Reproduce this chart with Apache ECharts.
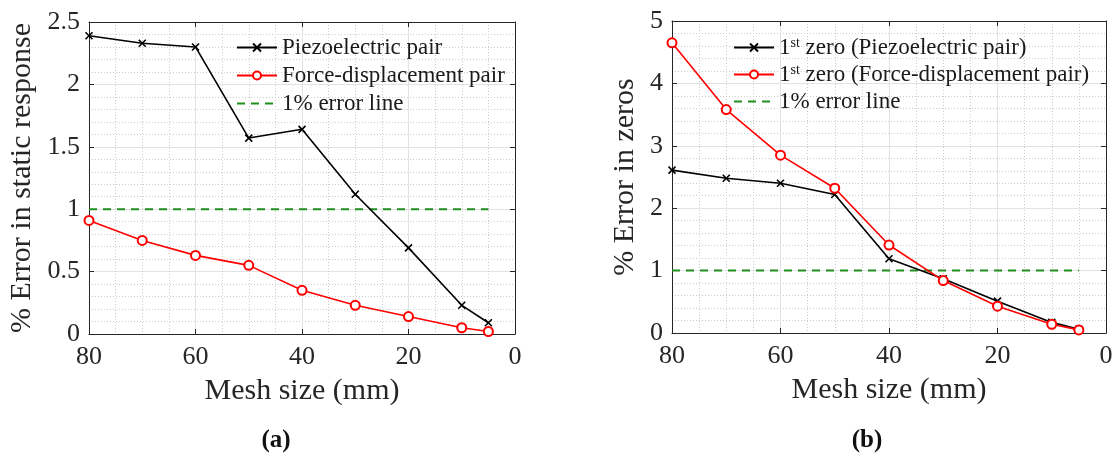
<!DOCTYPE html>
<html><head><meta charset="utf-8">
<script src="https://cdn.jsdelivr.net/npm/echarts@6/dist/echarts.min.js"></script>
<style>html,body{margin:0;padding:0;background:#fff}#c{width:1116px;height:455px}</style>
</head><body><div id="c"></div>
<script>
// ---- data ----
const meshSizes = [80, 70, 60, 50, 40, 30, 20, 10, 5];
const staticPiezo = [2.39, 2.33, 2.30, 1.57, 1.64, 1.12, 0.69, 0.23, 0.09];
const staticForce = [0.91, 0.75, 0.63, 0.55, 0.35, 0.23, 0.14, 0.05, 0.02];
const zeroPiezo = [2.61, 2.48, 2.40, 2.22, 1.19, 0.87, 0.51, 0.17, 0.06];
const zeroForce = [4.65, 3.58, 2.85, 2.32, 1.41, 0.84, 0.43, 0.14, 0.05];
const errorLineX = [80, 5];
const errorLineY = 1;
const xTicks = {min: 0, max: 80, interval: 20};
const yTicksA = {min: 0, max: 2.5, interval: 0.5};
const yTicksB = {min: 0, max: 5, interval: 1};
const names = {
  a1: 'Piezoelectric pair', a2: 'Force-displacement pair', err: '1% error line',
  b1: '1st zero (Piezoelectric pair)', b2: '1st zero (Force-displacement pair)'
};
const xLabel = 'Mesh size (mm)';
const yLabelA = '% Error in static response';
const yLabelB = '% Error in zeros';
const captions = ['(a)', '(b)'];

// ---- helpers ----
const FONT = "'Liberation Serif', 'DejaVu Serif', serif";
const AX = '#262626';
const pairs = (xs, ys) => xs.map((x, i) => [x, ys[i]]);
const crossSym = 'path://M0 0L10 10M10 0L0 10';
const noSym = 'path://M0 0L10 10';

function xAx(grid, top) {
  return {
    type: 'value', gridIndex: grid, position: top ? 'top' : 'bottom', inverse: true,
    min: xTicks.min, max: xTicks.max, interval: xTicks.interval,
    axisLine: {show: true, onZero: false, lineStyle: {color: AX, width: 1}},
    axisTick: {show: true, inside: true, length: 5, lineStyle: {color: AX}},
    axisLabel: {show: !top, color: AX, fontFamily: FONT, fontSize: 26, margin: 10},
    splitLine: {show: !top, lineStyle: {color: '#e2e2e2', width: 1}},
    minorTick: {show: false, splitNumber: 4},
    minorSplitLine: {show: !top, lineStyle: {color: '#cccccc', type: [1, 2], width: 1}},
    name: top ? '' : xLabel, nameLocation: 'middle', nameGap: 42,
    nameTextStyle: {color: AX, fontFamily: FONT, fontSize: 30}
  };
}
function yAx(grid, right, t, label, gap) {
  return {
    type: 'value', gridIndex: grid, position: right ? 'right' : 'left',
    min: t.min, max: t.max, interval: t.interval,
    axisLine: {show: true, onZero: false, lineStyle: {color: AX, width: 1}},
    axisTick: {show: true, inside: true, length: 5, lineStyle: {color: AX}},
    axisLabel: {show: !right, color: AX, fontFamily: FONT, fontSize: 26, margin: 9},
    splitLine: {show: !right, lineStyle: {color: '#e2e2e2', width: 1}},
    minorTick: {show: false, splitNumber: 5},
    minorSplitLine: {show: !right, lineStyle: {color: '#cccccc', type: [1, 2], width: 1}},
    name: right ? '' : label, nameLocation: 'middle', nameGap: gap,
    nameTextStyle: {color: AX, fontFamily: FONT, fontSize: 30}
  };
}
function piezo(name, xi, yi, ys) {
  return {
    type: 'line', name, xAxisIndex: xi, yAxisIndex: yi, data: pairs(meshSizes, ys),
    symbol: crossSym, symbolSize: 7, showAllSymbol: true,
    lineStyle: {color: '#000', width: 1.6},
    itemStyle: {color: '#000', borderColor: '#000', borderWidth: 1.6},
    z: 3
  };
}
function force(name, xi, yi, ys) {
  return {
    type: 'line', name, xAxisIndex: xi, yAxisIndex: yi, data: pairs(meshSizes, ys),
    symbol: 'emptyCircle', symbolSize: 9, showAllSymbol: true,
    lineStyle: {color: '#ff0000', width: 1.6},
    itemStyle: {color: '#ff0000', borderColor: '#ff0000', borderWidth: 1.6},
    z: 4
  };
}
function errLine(xi, yi) {
  return {
    type: 'line', name: names.err, xAxisIndex: xi, yAxisIndex: yi,
    data: errorLineX.map(x => [x, errorLineY]), symbol: noSym, showSymbol: false,
    lineStyle: {color: '#1f8f1f', width: 2, type: [8, 6]},
    itemStyle: {color: '#1f8f1f', borderWidth: 0}, z: 2
  };
}
const legendText = {
  color: '#1a1a1a', fontFamily: FONT, fontSize: 23, lineHeight: 22,
  rich: {
    b: {fontFamily: FONT, fontSize: 23, lineHeight: 22, color: '#1a1a1a'},
    s: {fontFamily: FONT, fontSize: 14, lineHeight: 13, color: '#1a1a1a', verticalAlign: 'top'}
  }
};
const legendFmt = n => n.startsWith('1st') ? '{b|1}{s|st}{b|' + n.slice(3) + '}' : n;

const chart = echarts.init(document.getElementById('c'), null, {renderer: 'canvas'});
chart.setOption({
  backgroundColor: '#fff',
  animation: false,
  title: [
    {text: captions[0], left: 271, top: 423, textAlign: 'center',
     textStyle: {fontFamily: FONT, fontWeight: 'bold', fontSize: 25, color: '#111'}},
    {text: captions[1], left: 862, top: 423, textAlign: 'center',
     textStyle: {fontFamily: FONT, fontWeight: 'bold', fontSize: 25, color: '#111'}}
  ],
  grid: [
    {left: 89, top: 22, width: 426, height: 312},
    {left: 672, top: 21, width: 434, height: 312}
  ],
  xAxis: [xAx(0, false), xAx(0, true), xAx(1, false), xAx(1, true)],
  yAxis: [yAx(0, false, yTicksA, yLabelA, 52), yAx(0, true, yTicksA, '', 0),
          yAx(1, false, yTicksB, yLabelB, 32), yAx(1, true, yTicksB, '', 0)],
  legend: [
    {data: [names.a1, names.a2, names.err], orient: 'vertical', left: 231, top: 31,
     itemWidth: 40, itemHeight: 10, itemGap: 5, textStyle: legendText, formatter: legendFmt,
     selectedMode: false},
    {data: [names.b1, names.b2, names.err], orient: 'vertical', left: 728, top: 31,
     itemWidth: 40, itemHeight: 10, itemGap: 4, textStyle: legendText, formatter: legendFmt,
     selectedMode: false}
  ],
  series: [
    errLine(0, 0), piezo(names.a1, 0, 0, staticPiezo), force(names.a2, 0, 0, staticForce),
    errLine(2, 2), piezo(names.b1, 2, 2, zeroPiezo), force(names.b2, 2, 2, zeroForce)
  ]
});
</script></body></html>
